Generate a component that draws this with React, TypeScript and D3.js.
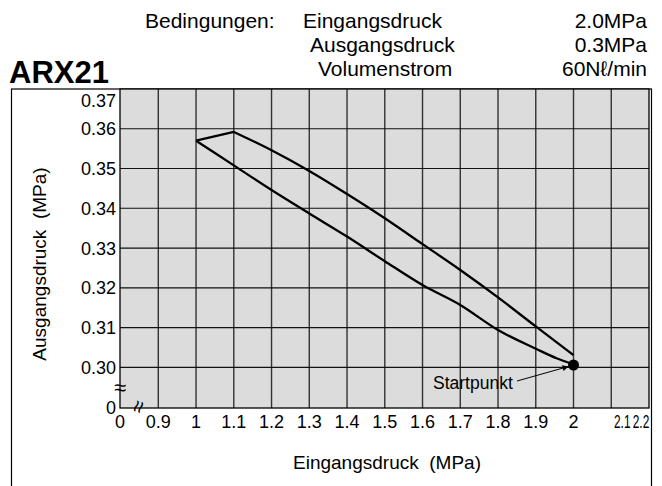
import React from 'react';
import * as d3 from 'd3';

const xTicks = [0, 0.9, 1.0, 1.1, 1.2, 1.3, 1.4, 1.5, 1.6, 1.7, 1.8, 1.9, 2.0, 2.1, 2.2];
const xTickLabels = ['0', '0.9', '1', '1.1', '1.2', '1.3', '1.4', '1.5', '1.6', '1.7', '1.8', '1.9', '2', '2.1', '2.2'];
const yTicks = [0, 0.30, 0.31, 0.32, 0.33, 0.34, 0.35, 0.36, 0.37];
const yTickLabels = ['0', '0.30', '0.31', '0.32', '0.33', '0.34', '0.35', '0.36', '0.37'];

// decreasing inlet pressure branch (lower curve)
const lowerX = [1.0, 1.1, 1.2, 1.3, 1.4, 1.5, 1.6, 1.7, 1.8, 1.9, 1.955, 1.99, 2.0];
const lowerY = [0.357, 0.3508, 0.3446, 0.3387, 0.3329, 0.3267, 0.3207, 0.3157, 0.3094, 0.3047, 0.3023, 0.3011, 0.3008];
// increasing inlet pressure branch (upper curve)
const upperX = [1.0, 1.1, 1.2, 1.3, 1.4, 1.5, 1.6, 1.7, 1.8, 1.9, 2.0];
const upperY = [0.357, 0.3592, 0.3546, 0.3494, 0.3436, 0.3375, 0.3310, 0.3245, 0.3176, 0.3103, 0.3031];

const startX = 2.0;
const startY = 0.3006;

const condLabels = ['Eingangsdruck', 'Ausgangsdruck', 'Volumenstrom'];
const condValues = ['2.0MPa', '0.3MPa', '60N\u2113/min'];

const FONT = '"Liberation Sans", Arial, Helvetica, sans-serif';

export default function App() {
  const x = d3.scaleLinear().domain([0, 0.9, 2.2]).range([120, 158.3, 649]);
  const y = d3.scaleLinear().domain([0, 0.30, 0.37]).range([408, 367.4, 89]);

  const line = d3
    .line<[number, number]>()
    .x((d) => x(d[0]))
    .y((d) => y(d[1]))
    .curve(d3.curveMonotoneX);
  const straight = d3
    .line<[number, number]>()
    .x((d) => x(d[0]))
    .y((d) => y(d[1]));

  const lowerPts = lowerX.map((v, i) => [v, lowerY[i]] as [number, number]);
  const upperPts = upperX.map((v, i) => [v, upperY[i]] as [number, number]);
  const upperPath =
    (straight(upperPts.slice(0, 2)) || '') + (line(upperPts.slice(1)) || '').replace(/^M/, 'L');

  const px0 = x(0), px1 = x(2.2), py0 = y(0), py1 = y(0.37);
  const sx = x(startX), sy = y(startY);

  const condX = [303, 310, 318];
  const condY = [28, 52, 76];

  const n = xTicks.length;
  const xLabelPos = (i: number) => {
    if (i === n - 1) return x(xTicks[i]) - 8;
    if (i === n - 2) return x(xTicks[i]) + 11;
    return x(xTicks[i]);
  };
  const yLabelPos = (i: number) => (i === yTicks.length - 1 ? y(yTicks[i]) + 12 : y(yTicks[i]));

  return (
    <svg
      width={662}
      height={486}
      style={{ position: 'absolute', left: 0, top: 0, display: 'block', background: '#fff' }}
      fontFamily={FONT}
    >
      <defs>
        <marker id="arr" viewBox="0 0 10 10" refX="10" refY="5" markerWidth="9" markerHeight="6" orient="auto" markerUnits="userSpaceOnUse">
          <path d="M0,0 L10,5 L0,10 z" fill="#000" />
        </marker>
      </defs>

      {/* header */}
      <text x={145} y={28} fontSize={21}>Bedingungen:</text>
      {condLabels.map((t, i) => (
        <text key={t} x={condX[i]} y={condY[i]} fontSize={21}>{t}</text>
      ))}
      {condValues.map((t, i) => (
        <text key={t} x={647} y={condY[i]} fontSize={21} textAnchor="end">{t}</text>
      ))}
      <text x={9} y={83} fontSize={31} fontWeight="bold">ARX21</text>

      {/* outer frame */}
      <rect x={11.5} y={89} width={640} height={420} fill="none" stroke="#000" strokeWidth={1.2} />

      {/* plot background */}
      <rect x={px0} y={py1} width={px1 - px0} height={py0 - py1} fill="#dcdcdc" />

      {/* grid */}
      {xTicks.slice(1, -1).map((t) => (
        <line key={'vx' + t} x1={x(t)} x2={x(t)} y1={py1} y2={py0} stroke="#333" strokeWidth={1.4} />
      ))}
      {yTicks.slice(1, -1).map((t) => (
        <line key={'hy' + t} x1={px0} x2={px1} y1={y(t)} y2={y(t)} stroke="#111" strokeWidth={1.1} />
      ))}
      <rect x={px0} y={py1} width={px1 - px0} height={py0 - py1} fill="none" stroke="#000" strokeWidth={1.3} />

      {/* tick labels */}
      {yTicks.map((t, i) => (
        <text key={'yl' + t} x={116} y={yLabelPos(i)} dy="0.36em" fontSize={18} textAnchor="end">{yTickLabels[i]}</text>
      ))}
      {xTicks.map((t, i) => (
        <text
          key={'xl' + t}
          transform={`translate(${xLabelPos(i)},428) scale(${i >= n - 2 ? 0.66 : 1},1)`}
          fontSize={18}
          textAnchor="middle"
        >
          {xTickLabels[i]}
        </text>
      ))}

      {/* axis breaks */}
      <text x={120} y={395} fontSize={22} textAnchor="middle">≈</text>
      <text x={139} y={407} fontSize={22} textAnchor="middle" dy="0.3em" transform={`rotate(-72 139 407)`}>≈</text>

      {/* axis titles */}
      <text x={387} y={469} fontSize={19} textAnchor="middle" style={{ whiteSpace: 'pre' }}>Eingangsdruck  (MPa)</text>
      <text transform="translate(46,264) rotate(-90)" fontSize={19} textAnchor="middle" style={{ whiteSpace: 'pre' }}>Ausgangsdruck  (MPa)</text>

      {/* curves */}
      <path d={line(lowerPts) || ''} fill="none" stroke="#000" strokeWidth={2.3} />
      <path d={upperPath} fill="none" stroke="#000" strokeWidth={2.3} strokeLinejoin="round" />
      <circle cx={sx} cy={sy} r={5.5} fill="#000" />

      {/* annotation */}
      <text x={433} y={389} fontSize={17.5}>Startpunkt</text>
      <line x1={517} y1={381} x2={sx - 5} y2={sy + 1.5} stroke="#000" strokeWidth={1} markerEnd="url(#arr)" />
    </svg>
  );
}
